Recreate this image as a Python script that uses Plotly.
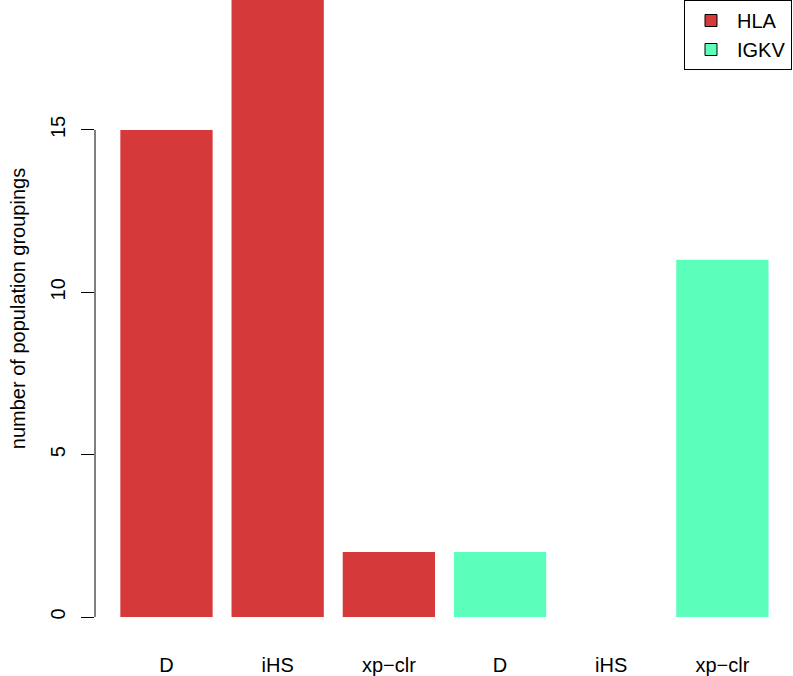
import plotly.graph_objects as go

categories = ["D", "iHS", "xp\u2212clr"]
groups = ["HLA", "IGKV"]
hla_values = [15, 19, 2]
igkv_values = [2, 0, 11]
colors = {"HLA": "#D63939", "IGKV": "#5BFFBB"}
y_ticks = [0, 5, 10, 15]

series = {"HLA": hla_values, "IGKV": igkv_values}
fig = go.Figure()
pos = 0
tickvals, ticktext = [], []
for g in groups:
    xs = list(range(pos, pos + len(categories)))
    fig.add_trace(go.Bar(
        x=xs, y=series[g], name=g, showlegend=False,
        marker=dict(color=colors[g], line=dict(width=0)),
    ))
    # legend entry: filled square with black border, as in R legend()
    fig.add_trace(go.Scatter(
        x=[None], y=[None], mode="markers", name=g,
        marker=dict(symbol="square", size=12, color=colors[g],
                    line=dict(color="black", width=1)),
    ))
    tickvals += xs
    ticktext += categories
    pos += len(categories)

font = "Liberation Sans, Arial, Helvetica, sans-serif"
fs = 20
fig.update_layout(
    width=793, height=676,
    margin=dict(l=95, r=15, t=0, b=57),
    plot_bgcolor="white", paper_bgcolor="white",
    barmode="overlay", bargap=0.17,
    font=dict(family=font, size=fs, color="black"),
    showlegend=True,
    legend=dict(x=1.0205, y=1.0, xanchor="right", yanchor="top",
                bordercolor="black", borderwidth=1, bgcolor="white",
                font=dict(size=fs), itemwidth=42, tracegroupgap=0),
    xaxis=dict(range=[-0.643, 5.5], tickvals=tickvals, ticktext=ticktext,
               showline=False, showgrid=False, zeroline=False,
               ticks="outside", ticklen=30, tickcolor="rgba(0,0,0,0)",
               tickfont=dict(size=fs)),
    yaxis=dict(range=[0, 19], tickvals=y_ticks, showgrid=False, zeroline=False,
               showline=False, ticks="outside", ticklen=13, tickcolor="black",
               tickwidth=1, tickangle=-90, tickfont=dict(size=fs),
               ticklabelstandoff=8,
               title=dict(text="number of population groupings", standoff=16,
                          font=dict(size=fs))),
)
fig.add_shape(type="line", xref="paper", yref="y", x0=0, x1=0,
              y0=min(y_ticks), y1=max(y_ticks), line=dict(color="black", width=1))
fig.write_html("out.html", config={"displayModeBar": False},
               post_script="document.body.style.margin='0';window.dispatchEvent(new Event('resize'));")
